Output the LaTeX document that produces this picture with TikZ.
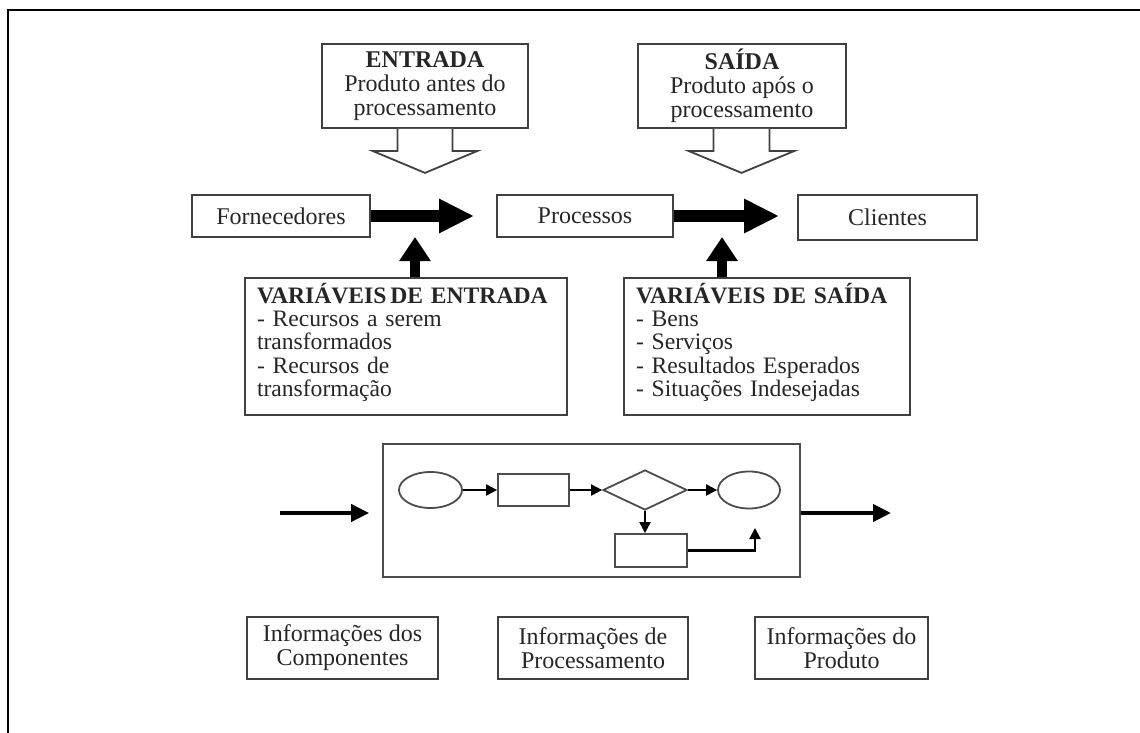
\documentclass[tikz,border=0pt]{standalone}
\usepackage{fontspec}
\setmainfont{Liberation Serif}
\usetikzlibrary{arrows.meta,positioning,shapes.geometric}

\begin{document}
\begin{tikzpicture}[x=0.5pt, y=-0.5pt,
    box/.style={draw=black!75, line width=0.9pt, inner sep=2pt, align=center, text=black!85, font=\fontsize{12}{12}\selectfont},
    list/.style={box, align=left, inner xsep=6pt, font=\fontsize{11.8}{11.6}\selectfont},
    part/.style={draw=black!70, line width=0.9pt, inner sep=0pt},
    fat/.style={line width=6pt, -{Triangle[length=17.5pt,width=16pt]}},
    fatup/.style={line width=5pt, -{Triangle[length=12pt,width=15pt]}},
    mid/.style={line width=2pt, -{Triangle[length=9pt,width=8.5pt]}},
    flow/.style={line width=1.1pt, -{Triangle[length=5.5pt,width=5.5pt]}},
    hollow/.style={draw=black!75, line width=0.9pt, fill=white}]
    \useasboundingbox (0,0) rectangle (1140,733);
    \draw[line width=1.3pt] (8,733) -- (8,10) -- (1140,10);

    \node (entrada) [box, minimum width=103pt, minimum height=42pt] at (425,86) {\textbf{ENTRADA}\\Produto antes do\\processamento};
    \node (saida) [box, minimum width=104pt, minimum height=42pt] at (742,86) {\textbf{SAÍDA}\\Produto após o\\processamento};
    \node (forn) [box, minimum width=89pt, minimum height=21pt] at (281,216) {Fornecedores};
    \node (proc) [box, minimum width=88pt, minimum height=21pt] at (585,216) {Processos};
    \node (cli) [box, minimum width=89.5pt, minimum height=22.5pt] at (887.5,217.5) {Clientes};
    \node (varent) [list, text width=149pt, minimum height=68.5pt] at (406,346.5) {\textbf{VARIÁVEIS\,DE ENTRADA}\\- Recursos a serem\\transformados\\- Recursos de\\transformação\rule[-6.8pt]{0pt}{6.8pt}};
    \node (varsai) [list, text width=131pt, minimum height=68.5pt] at (767,346.5) {\textbf{VARIÁVEIS DE SAÍDA}\\- Bens\\- Serviços\\- Resultados Esperados\\- Situações Indesejadas\rule[-6.8pt]{0pt}{6.8pt}};
    \node (info1) [box, minimum width=95.5pt, minimum height=31pt] at (342.5,648) {Informações dos\\Componentes};
    \node (info2) [box, minimum width=95pt, minimum height=31pt] at (593,648) {Informações de\\Processamento};
    \node (info3) [box, minimum width=86.5pt, minimum height=31pt] at (841.5,648) {Informações do\\Produto};

    \draw[hollow] ([xshift=-13.75pt]entrada.south) -- ++(0,22) -- ++(-25,0) -- ++(52.5,22) -- ++(52.5,-22) -- ++(-25,0) -- ++(0,-22);
    \draw[hollow] ([xshift=-14.25pt]saida.south) -- ++(0,22) -- ++(-25,0) -- ++(53,22) -- ++(53,-22) -- ++(-25,0) -- ++(0,-22);
    \draw[fat, shorten >=11pt] (forn.east) -- (proc.west);
    \draw[fat, shorten >=9pt] (proc.east) -- (cli.west |- proc.east);
    \coordinate (m1) at (415,216);
    \coordinate (m2) at (722,216);
    \draw[fatup, shorten >=10.5pt] (varent.north -| m1) -- (m1);
    \draw[fatup, shorten >=10.5pt] (varsai.north -| m2) -- (m2);

    \node (flow) [part, minimum width=208.5pt, minimum height=66.5pt] at (591.5,510.5) {};
    \node (o1) [part, ellipse, minimum width=31.5pt, minimum height=18pt] at (430.5,490) {};
    \node (r1) [part, minimum width=35.5pt, minimum height=16pt] at (533.5,490) {};
    \node (dec) [part, diamond, aspect=2.1, minimum width=42pt, minimum height=20pt] at (645,490) {};
    \node (o2) [part, ellipse, minimum width=31pt, minimum height=18.5pt] at (749,490) {};
    \node (r2) [part, minimum width=36pt, minimum height=16.5pt] at (651,550.5) {};
    \coordinate (fb) at (755,528);
    \draw[flow] (o1) -- (r1);
    \draw[flow] (r1) -- (dec);
    \draw[flow] (dec) -- (o2);
    \draw[flow] (dec.south) -- (dec.south |- r2.north);
    \draw[flow] (r2.east) -| (fb);
    \coordinate (in0) at (280,513);
    \coordinate (out0) at (891,513);
    \draw[mid, shorten >=6.5pt] (in0) -- (in0 -| flow.west);
    \draw[mid] (flow.east |- out0) -- (out0);
\end{tikzpicture}
\end{document}
